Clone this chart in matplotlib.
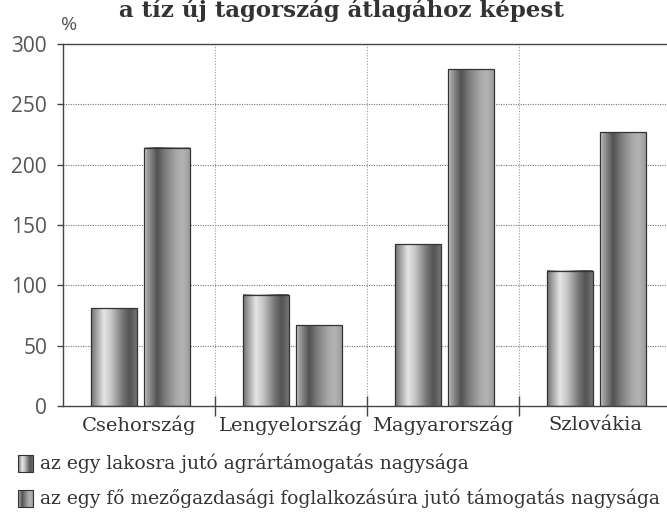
import matplotlib.pyplot as plt
import numpy as np

countries = ['Csehország', 'Lengyelország', 'Magyarország', 'Szlovákia']
per_capita = [81, 92, 134, 112]          # az egy lakosra jutó agrártámogatás
per_farmer = [214, 67, 279, 227]         # az egy fő mezőgazdasági foglalkozásúra jutó
series_labels = ['az egy lakosra jutó agrártámogatás nagysága',
                 'az egy fő mezőgazdasági foglalkozásúra jutó támogatás nagysága']
title = 'a tíz új tagország átlagához képest'
yticks = [0, 50, 100, 150, 200, 250, 300]

# shading profiles across a bar (cylinder look)
prof_x = [0.0, 0.08, 0.28, 0.45, 0.7, 0.85, 1.0]
prof1 = [0.45, 0.58, 0.9, 0.76, 0.45, 0.33, 0.45]
prof2 = [0.78, 0.6, 0.32, 0.48, 0.66, 0.7, 0.62]
u = np.linspace(0, 1, 60)
grad1 = np.interp(u, prof_x, prof1)[None, :]
grad2 = np.interp(u, prof_x, prof2)[None, :]

serif = 'DejaVu Serif'

fig = plt.figure(figsize=(6.67, 5.21), dpi=100)
ax = fig.add_axes([63/667, 115/521, 608/667, 362/521])

x = np.arange(len(countries))
w = 0.30
off = 0.175
shift = 0.01
for xi, v in zip(x - off + shift, per_capita):
    ax.imshow(grad1, cmap='gray', vmin=0, vmax=1, aspect='auto',
              extent=[xi - w/2, xi + w/2, 0, v], zorder=2)
for xi, v in zip(x + off + shift, per_farmer):
    ax.imshow(grad2, cmap='gray', vmin=0, vmax=1, aspect='auto',
              extent=[xi - w/2, xi + w/2, 0, v], zorder=2)
ax.bar(x - off + shift, per_capita, w, fill=False, edgecolor='#333333', linewidth=0.9, zorder=3)
ax.bar(x + off + shift, per_farmer, w, fill=False, edgecolor='#333333', linewidth=0.9, zorder=3)

ax.set_xlim(-0.5, 3.5)
ax.set_ylim(0, 300)

for yv in yticks[1:-1]:
    ax.axhline(yv, color='#777777', linestyle=(0, (1, 1.2)), linewidth=0.8, zorder=1)
for b in [0.5, 1.5, 2.5]:
    ax.axvline(b, color='#999999', linestyle=(0, (1, 1.5)), linewidth=0.8, zorder=1)

ax.spines['right'].set_visible(False)
for s in ['left', 'bottom', 'top']:
    ax.spines[s].set_color('#444444')
    ax.spines[s].set_linewidth(1.0)

ax.set_yticks(yticks)
ax.set_yticklabels([str(t) for t in yticks], fontfamily='Open Sans', fontsize=15, color='#555555')
ax.tick_params(axis='y', direction='out', length=4.5, width=1, color='#444444', pad=7)

ax.set_xticks([0.5, 1.5, 2.5])
ax.set_xticklabels([])
ax.tick_params(axis='x', direction='inout', length=14, width=1, color='#444444')
for xi, name in zip(x, countries):
    ax.text(xi, -16, name, ha='center', va='center', fontfamily=serif, fontsize=14,
            color='#333333', clip_on=False)

fig.text(69/667, 1 - 25/521, '%', ha='center', va='center', fontfamily='Open Sans',
         fontsize=14, color='#555555')
fig.text(341/667, 1 - 17/521, title, ha='center', va='baseline', fontfamily=serif,
         fontweight='bold', fontsize=16.5, color='#333333')

# legend
lax = fig.add_axes([0, 0, 1, 1], zorder=-1)
lax.axis('off')
for (y0, y1), g, lab in zip([(455, 472), (490, 507)], [grad1, grad2], series_labels):
    lax.imshow(g, cmap='gray', vmin=0, vmax=1, aspect='auto', extent=[18, 33, y1, y0])
    lax.add_patch(plt.Rectangle((18, y0), 15, y1 - y0, fill=False, edgecolor='#333333', lw=0.8))
    lax.text(40, (y0 + y1) / 2, lab, ha='left', va='center', fontfamily=serif,
             fontsize=13.5, color='#333333')
lax.set_xlim(0, 667)
lax.set_ylim(521, 0)

fig.savefig('out.png', dpi=100)
